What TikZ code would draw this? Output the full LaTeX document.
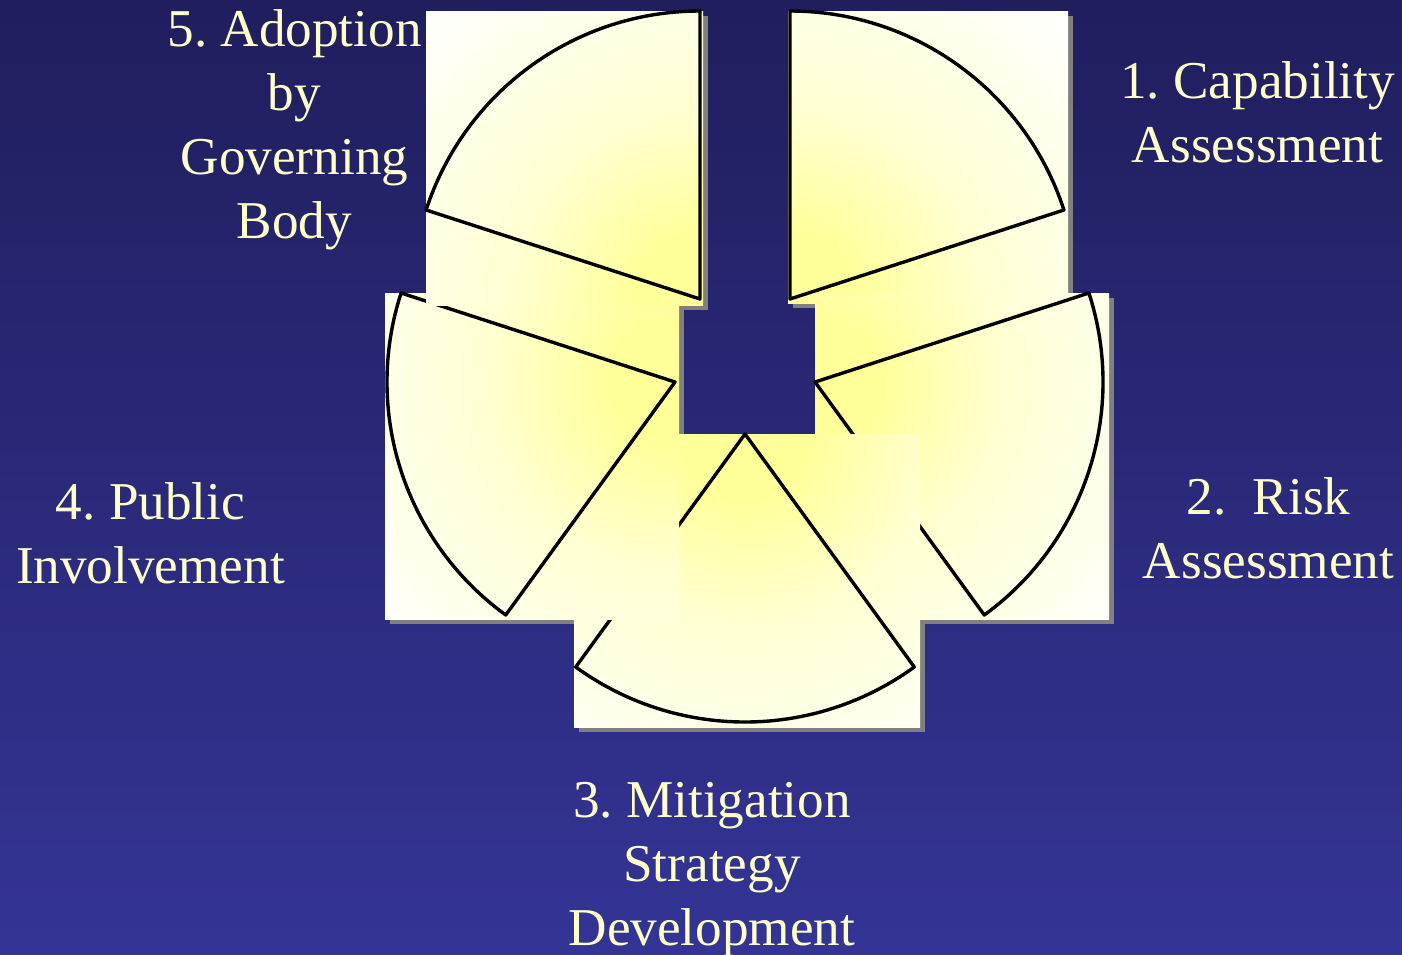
\documentclass[tikz,border=0pt]{standalone}
\usepackage{fontspec}
\setmainfont{Liberation Serif}
\frenchspacing
\definecolor{bgtop}{HTML}{201E5D}
\definecolor{bgbot}{HTML}{343496}
\definecolor{yel}{HTML}{FFFF99}
\definecolor{cream}{HTML}{FFFFCC}
\definecolor{shadowc}{HTML}{808080}
\pgfdeclareradialshading{pieglow}{\pgfpoint{0bp}{0bp}}{color(0bp)=(yel); color(3bp)=(yel); color(9bp)=(yel!45!white); color(19bp)=(white); color(50bp)=(white)}
\tikzset{
  lbl/.style={text=cream, font=\fontsize{26.6pt}{32pt}\selectfont, align=center, anchor=base, inner sep=0pt},
  wedge/.style={draw=black, line width=1.7pt, line join=round},
  shadowbox/.style={fill=shadowc},
}
\newcommand{\piecefill}[5]{%
  \begin{scope}
    \clip (#1,#2) rectangle (#3,#4);
    \fill[white] (#1,#2) rectangle (#3,#4);
    \shade[shading=pieglow] (#5) circle (260pt);
  \end{scope}}
\begin{document}
\begin{tikzpicture}[x=0.5pt,y=-0.5pt]
\useasboundingbox (0,0) rectangle (1402,954);
\shade[top color=bgtop,bottom color=bgbot] (0,0) rectangle (1402,954);
% apexes of the exploded pie slices
\coordinate (A1) at (790,299);
\coordinate (A2) at (815,382);
\coordinate (A3) at (745,434);
\coordinate (A4) at (675,382);
\coordinate (A5) at (700,299);
% shadows (all behind)
\fill[shadowbox] (793,16) rectangle (1073,308);
\fill[shadowbox] (820,298) rectangle (1114,624);
\fill[shadowbox] (579,439) rectangle (925,732);
\fill[shadowbox] (390,298) rectangle (684,624);
\fill[shadowbox] (431,16) rectangle (708,310);
% piece 1
\piecefill{788}{11}{1068}{303}{A1}
\draw[wedge] (A1) -- ++(90:144pt) arc[start angle=90,end angle=18,radius=144pt] -- cycle;
% piece 2
\piecefill{815}{293}{1109}{619}{A2}
\draw[wedge] (A2) -- ++(18:144pt) arc[start angle=18,end angle=-54,radius=144pt] -- cycle;
% piece 3
\piecefill{574}{434}{920}{727}{A3}
\draw[wedge] (A3) -- ++(-54:144pt) arc[start angle=-54,end angle=-126,radius=144pt] -- cycle;
% piece 4
\piecefill{385}{293}{679}{619}{A4}
\draw[wedge] (A4) -- ++(234:144pt) arc[start angle=234,end angle=162,radius=144pt] -- cycle;
% piece 5
\piecefill{426}{11}{703}{305}{A5}
\draw[wedge] (A5) -- ++(162:144pt) arc[start angle=162,end angle=90,radius=144pt] -- cycle;
% labels (anchored at the baseline of their last line)
\node[lbl] (t5) at (294.5,238) {5. Adoption\\by\\Governing\\Body};
\node[lbl] (t1) at (1257.5,162) {1. Capability\\Assessment};
\node[lbl] (t4) at (150.5,583) {4. Public\\Involvement};
\node[lbl] (t2) at (1268.5,578) {2.\ \ Risk\\Assessment};
\node[lbl] (t3) at (712,945) {3. Mitigation\\Strategy\\Development};
\end{tikzpicture}
\end{document}
